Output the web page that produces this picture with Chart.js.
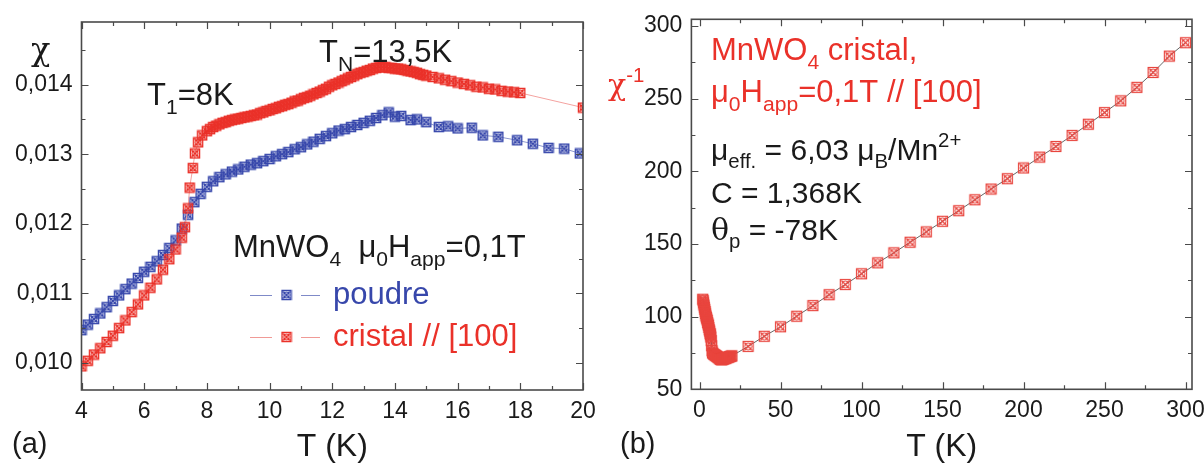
<!DOCTYPE html>
<html>
<head>
<meta charset="utf-8">
<script src="https://cdn.jsdelivr.net/npm/chart.js@4.4.0/dist/chart.umd.min.js"></script>
<style>
  body { margin: 0; background: #fff; }
  #wrap { position: relative; width: 1204px; height: 464px; }
  #chartA { position: absolute; left: 0; top: 0; }
  #chartB { position: absolute; left: 600px; top: 0; }
</style>
</head>
<body>
<div id="wrap">
  <canvas id="chartA" width="600" height="464"></canvas>
  <canvas id="chartB" width="604" height="464"></canvas>
</div>
<script>
// panel (a): chi vs T, 4-20 K
const cristalT = [4.0, 4.2, 4.4, 4.6, 4.8, 5.0, 5.2, 5.4, 5.6, 5.8, 6.0, 6.2, 6.4, 6.6, 6.8, 7.0, 7.2, 7.3, 7.4, 7.45,
  7.55, 7.62, 7.72, 7.85,
  8.0, 8.1, 8.2, 8.3, 8.4, 8.5, 8.6, 8.7, 8.8, 8.9, 9.0, 9.1, 9.2, 9.3, 9.4, 9.5, 9.6, 9.7, 9.8, 9.9,
  10.0, 10.1, 10.2, 10.3, 10.4, 10.5, 10.6, 10.7, 10.8, 10.9, 11.0, 11.1, 11.2, 11.3, 11.4, 11.5, 11.6, 11.7, 11.8, 11.9,
  12.0, 12.1, 12.2, 12.3, 12.4, 12.5, 12.6, 12.7, 12.8, 12.9, 13.0, 13.1, 13.2, 13.3, 13.4, 13.5, 13.6, 13.7, 13.8, 13.9,
  14.0, 14.1, 14.2, 14.3, 14.4, 14.5, 14.6, 14.7, 14.8, 14.9,
  15.0, 15.2, 15.4, 15.6, 15.8, 16.0, 16.2, 16.4, 16.6, 16.8, 17.0, 17.2, 17.4, 17.6, 17.8, 18.0, 20.0];
const cristalChi = [0.00995, 0.01003, 0.01012, 0.01021, 0.01030, 0.01039, 0.01050, 0.01061, 0.01073, 0.01084,
  0.01097, 0.01108, 0.01120, 0.01134, 0.01149, 0.01163, 0.01180, 0.01195, 0.01222, 0.01252,
  0.01280, 0.01301, 0.01317, 0.01327,
  0.01333, 0.01336, 0.01339, 0.01341, 0.01343, 0.01345, 0.01346, 0.01348, 0.01349, 0.01350,
  0.01351, 0.01352, 0.01353, 0.01354, 0.01355, 0.01356, 0.01357, 0.01359, 0.01360, 0.01362,
  0.01363, 0.01365, 0.01366, 0.01368, 0.01369, 0.01371, 0.01372, 0.01374, 0.01376, 0.01377,
  0.01379, 0.01381, 0.01382, 0.01384, 0.01386, 0.01388, 0.01390, 0.01392, 0.01394, 0.01397,
  0.01399, 0.01401, 0.01403, 0.01405, 0.01407, 0.01409, 0.01411, 0.01413, 0.01415, 0.01417,
  0.01418, 0.01420, 0.01421, 0.01423, 0.01424, 0.01425, 0.01425, 0.01425, 0.01424, 0.01424,
  0.01423, 0.01423, 0.01422, 0.01421, 0.01420, 0.01419, 0.01418, 0.01417, 0.01415, 0.01414,
  0.01413, 0.01411, 0.01409, 0.01407, 0.01405, 0.01403, 0.01401, 0.01399, 0.01397, 0.01396,
  0.01394, 0.01393, 0.01391, 0.01390, 0.01389, 0.01388, 0.01367];

const poudreT = [4.0, 4.2, 4.4, 4.6, 4.8, 5.0, 5.2, 5.4, 5.6, 5.8, 6.0, 6.2, 6.4, 6.6, 6.8, 7.0, 7.2, 7.4, 7.6, 7.8,
  8.0, 8.2, 8.4, 8.6, 8.8, 9.0, 9.2, 9.4, 9.6, 9.8, 10.0, 10.2, 10.4, 10.6, 10.8, 11.0, 11.2, 11.4, 11.6, 11.8,
  12.0, 12.2, 12.4, 12.6, 12.8, 13.0, 13.2, 13.4, 13.6, 13.8, 14.0, 14.2, 14.5, 14.7, 15.0, 15.4, 15.7, 16.0,
  16.45, 16.8, 17.3, 17.9, 18.4, 18.9, 19.4, 19.9];
const poudreChi = [0.01047, 0.01055, 0.01063, 0.01071, 0.01080, 0.01089, 0.01097, 0.01106, 0.01114, 0.01122,
  0.01131, 0.01138, 0.01146, 0.01155, 0.01165, 0.01176, 0.01193, 0.01213, 0.01231, 0.01243,
  0.01253, 0.01261, 0.01267, 0.01271, 0.01275, 0.01278, 0.01282, 0.01285, 0.01287, 0.01290,
  0.01293, 0.01297, 0.01300, 0.01303, 0.01307, 0.01310, 0.01314, 0.01318, 0.01322, 0.01326,
  0.01330, 0.01334, 0.01336, 0.01339, 0.01342, 0.01345, 0.01348, 0.01352, 0.01356, 0.01360,
  0.01354, 0.01355, 0.01349, 0.01350, 0.01346, 0.01339, 0.01340, 0.01337,
  0.01338, 0.01327, 0.01325, 0.01320, 0.01315, 0.01309, 0.01308, 0.01301];

// panel (b): 1/chi vs T, 0-300 K
const lowT = [2, 2.25, 2.5, 2.75, 3, 3.25, 3.5, 3.75, 4, 4.25, 4.5, 4.75, 5, 5.25, 5.5, 5.75, 6, 6.25, 6.5, 6.75,
  7, 7.25, 7.5, 7.75, 8, 8.5, 9, 9.5, 10, 10.5, 11, 11.5, 12, 12.5, 13, 13.5, 14, 14.5, 15, 15.5, 16, 16.5,
  17, 17.5, 18, 18.5, 19, 19.5];
const lowInv = [112, 111, 109.5, 108, 106.5, 105, 103.5, 102, 100.5, 99.5, 98.5, 97.5, 96, 95, 94, 92.5, 91, 90,
  88.5, 87.5, 86, 83.5, 80, 76.5, 75, 74.4, 74, 73.6, 73.2, 72.8, 72.4, 72, 71.5, 71, 70.6, 70.3, 70.4, 70.6,
  70.9, 71.1, 71.3, 71.5, 71.8, 72, 72.2, 72.4, 72.6, 72.8];
const highT = [20, 30, 40, 50, 60, 70, 80, 90, 100, 110, 120, 130, 140, 150, 160, 170, 180, 190, 200, 210,
  220, 230, 240, 250, 260, 270, 280, 290, 300];
const highInv = [73, 79.5, 86.5, 93, 100.3, 107.6, 115.1, 122.1, 129.5, 137, 143.9, 151.2, 158.3, 165.6, 172.9,
  180.4, 187.8, 194.9, 202.3, 209.8, 217.1, 224.7, 232.4, 240.4, 248.5, 257.8, 268, 279.3, 288.5];

const xTicksA = [4, 6, 8, 10, 12, 14, 16, 18, 20];
const yTicksA = [0.010, 0.011, 0.012, 0.013, 0.014];
const xTicksB = [0, 50, 100, 150, 200, 250, 300];
const yTicksB = [50, 100, 150, 200, 250, 300];

const RED = '#ea3129';
const BLUE = '#3747ab';
const SANS = '"Liberation Sans", Arial, sans-serif';
const GREEK = '"DejaVu Serif", "Liberation Serif", serif';

function makeMarker(color, size, lw) {
  const c = document.createElement('canvas');
  c.width = c.height = size + 2;
  const g = c.getContext('2d');
  const a = 1.5, b = size + 0.5;
  g.strokeStyle = color;
  g.lineWidth = lw;
  g.strokeRect(a, a, b - a, b - a);
  g.beginPath();
  g.moveTo(a + 1, a + 1); g.lineTo(b - 1, b - 1);
  g.moveTo(b - 1, a + 1); g.lineTo(a + 1, b - 1);
  g.stroke();
  g.lineWidth = 1;
  g.beginPath();
  g.arc(c.width / 2, c.height / 2, size / 2 - 2, 0, Math.PI * 2);
  g.stroke();
  return c;
}

const mkRed = makeMarker(RED, 10, 1.5);
const mkBlue = makeMarker(BLUE, 10, 1.5);
const mkRedB = makeMarker('#e8453e', 11, 1.2);

function pts(xs, ys) { return xs.map((x, i) => ({ x: x, y: ys[i] })); }

// rich text with sub / superscripts
function rich(ctx, x, y, parts, size, color) {
  ctx.fillStyle = color;
  ctx.textAlign = 'left';
  ctx.textBaseline = 'alphabetic';
  let cx = x;
  parts.forEach(p => {
    const kind = p[1] || '';
    const s = kind ? size * 0.68 : size;
    ctx.font = s + 'px ' + (p[2] || SANS);
    const dy = kind === 'sub' ? size * 0.28 : kind === 'sup' ? -size * 0.45 : 0;
    ctx.fillText(p[0], cx, y + dy);
    cx += ctx.measureText(p[0]).width;
  });
}

// box + inward ticks on the four sides
const frameTicks = {
  id: 'frameTicks',
  afterDraw(chart, args, opts) {
    const { ctx, chartArea: a, scales: { x, y } } = chart;
    ctx.save();
    ctx.strokeStyle = '#4a4a4a';
    ctx.lineWidth = 1.2;
    ctx.beginPath();
    const tick = (vals, len, horiz) => vals.forEach(v => {
      if (horiz) {
        const px = Math.round(x.getPixelForValue(v)) + 0.5;
        ctx.moveTo(px, a.bottom); ctx.lineTo(px, a.bottom - len);
        ctx.moveTo(px, a.top); ctx.lineTo(px, a.top + len);
      } else {
        const py = Math.round(y.getPixelForValue(v)) + 0.5;
        ctx.moveTo(a.left, py); ctx.lineTo(a.left + len, py);
        ctx.moveTo(a.right, py); ctx.lineTo(a.right - len, py);
      }
    });
    tick(opts.xMajor, 7, true);
    tick(opts.xMinor, 4, true);
    tick(opts.yMajor, 7, false);
    tick(opts.yMinor, 4, false);
    ctx.stroke();
    ctx.lineWidth = 1.6;
    ctx.strokeRect(a.left, a.top, a.right - a.left, a.bottom - a.top);
    ctx.restore();
  }
};

const notes = {
  id: 'notes',
  afterDraw(chart, args, opts) {
    const ctx = chart.ctx;
    ctx.save();
    opts.items.forEach(it => rich(ctx, it.x, it.y, it.parts, it.size, it.color));
    (opts.legend || []).forEach(l => {
      ctx.strokeStyle = l.line;
      ctx.lineWidth = 1;
      ctx.beginPath();
      ctx.moveTo(250, l.y + 0.5); ctx.lineTo(272, l.y + 0.5);
      ctx.moveTo(301, l.y + 0.5); ctx.lineTo(320, l.y + 0.5);
      ctx.stroke();
      ctx.drawImage(l.marker, 286.5 - l.marker.width / 2, l.y - l.marker.height / 2);
      rich(ctx, 333, l.y + 9, [[l.text]], 31, l.color);
    });
    ctx.restore();
  }
};

function fixBox(w, h) {
  return function (s) {
    if (w !== null) s.width = w;
    if (h !== null) s.height = h;
    s.paddingLeft = 0; s.paddingRight = 0; s.paddingTop = 0; s.paddingBottom = 0;
  };
}

const tickFont = { family: SANS, size: 23 };
const titleFont = { family: SANS, size: 32, lineHeight: 1.05 };

new Chart(document.getElementById('chartA'), {
  type: 'scatter',
  data: {
    datasets: [{
      label: 'cristal // [100]',
      data: pts(cristalT, cristalChi),
      showLine: true,
      borderColor: '#f4a3a0',
      borderWidth: 1,
      pointStyle: mkRed,
      order: 0
    }, {
      label: 'poudre',
      data: pts(poudreT, poudreChi),
      showLine: true,
      borderColor: '#8e98cf',
      borderWidth: 1,
      pointStyle: mkBlue,
      order: 1
    }]
  },
  options: {
    responsive: false,
    devicePixelRatio: 1,
    animation: false,
    layout: { padding: { top: 22, right: 17, left: 0, bottom: 0 } },
    plugins: {
      legend: { display: false },
      tooltip: { enabled: false },
      frameTicks: {
        xMajor: xTicksA, xMinor: [5, 7, 9, 11, 13, 15, 17, 19],
        yMajor: yTicksA, yMinor: [0.0105, 0.0115, 0.0125, 0.0135, 0.0145]
      },
      notes: {
        items: [
          { x: 31, y: 60, size: 32, color: '#1a1a1a', parts: [['χ', '', GREEK]] },
          { x: 319, y: 62, size: 31, color: '#1a1a1a', parts: [['T'], ['N', 'sub'], ['=13,5K']] },
          { x: 147, y: 105, size: 31, color: '#1a1a1a', parts: [['T'], ['1', 'sub'], ['=8K']] },
          { x: 233, y: 257, size: 31, color: '#1a1a1a',
            parts: [['MnWO'], ['4', 'sub'], ['  μ'], ['0', 'sub'], ['H'], ['app', 'sub'], ['=0,1T']] },
          { x: 12, y: 453, size: 29, color: '#1a1a1a', parts: [['(a)']] }
        ],
        legend: [
          { y: 295, text: 'poudre', color: BLUE, line: '#7f8ac8', marker: mkBlue },
          { y: 337, text: 'cristal // [100]', color: RED, line: '#f09a96', marker: mkRed }
        ]
      }
    },
    scales: {
      x: {
        type: 'linear', min: 4, max: 20,
        afterBuildTicks: s => { s.ticks = xTicksA.map(v => ({ value: v })); },
        afterFit: fixBox(null, 74),
        grid: { display: false, drawTicks: false },
        border: { display: false },
        ticks: { font: tickFont, color: '#1a1a1a', padding: 8, maxRotation: 0 },
        title: { display: true, text: 'T (K)', font: titleFont, color: '#1a1a1a', padding: 0 }
      },
      y: {
        type: 'linear', min: 0.00961, max: 0.0149,
        afterBuildTicks: s => { s.ticks = yTicksA.map(v => ({ value: v })); },
        afterFit: fixBox(81.5, null),
        grid: { display: false, drawTicks: false },
        border: { display: false },
        ticks: { font: tickFont, color: '#1a1a1a', padding: 9, callback: v => v.toFixed(3).replace('.', ',') }
      }
    }
  },
  plugins: [frameTicks, notes]
});

new Chart(document.getElementById('chartB'), {
  type: 'scatter',
  data: {
    datasets: [{
      label: 'cristal',
      data: pts(lowT.concat(highT), lowInv.concat(highInv)),
      showLine: true,
      borderColor: '#666',
      borderWidth: 1,
      pointStyle: mkRedB
    }]
  },
  options: {
    responsive: false,
    devicePixelRatio: 1,
    animation: false,
    layout: { padding: { top: 19.3, right: 12, left: 0, bottom: 0 } },
    plugins: {
      legend: { display: false },
      tooltip: { enabled: false },
      frameTicks: {
        xMajor: xTicksB, xMinor: [25, 75, 125, 175, 225, 275],
        yMajor: yTicksB, yMinor: [75, 125, 175, 225, 275]
      },
      notes: {
        items: [
          { x: 8, y: 95, size: 30, color: RED, parts: [['χ', '', GREEK], ['-1', 'sup']] },
          { x: 111, y: 60, size: 31, color: RED, parts: [['MnWO'], ['4', 'sub'], [' cristal,']] },
          { x: 111, y: 102, size: 31, color: RED, parts: [['μ'], ['0', 'sub'], ['H'], ['app', 'sub'], ['=0,1T // [100]']] },
          { x: 111, y: 160, size: 30, color: '#1a1a1a',
            parts: [['μ'], ['eff.', 'sub'], [' = 6,03 μ'], ['B', 'sub'], ['/Mn'], ['2+', 'sup']] },
          { x: 111, y: 203, size: 30, color: '#1a1a1a', parts: [['C = 1,368K']] },
          { x: 111, y: 240, size: 30, color: '#1a1a1a', parts: [['θ', '', GREEK], ['p', 'sub'], [' = -78K']] },
          { x: 20, y: 453, size: 29, color: '#1a1a1a', parts: [['(b)']] }
        ]
      }
    },
    scales: {
      x: {
        type: 'linear', min: -5, max: 304,
        afterBuildTicks: s => { s.ticks = xTicksB.map(v => ({ value: v })); },
        afterFit: fixBox(null, 74.7),
        grid: { display: false, drawTicks: false },
        border: { display: false },
        ticks: { font: tickFont, color: '#1a1a1a', padding: 8, maxRotation: 0 },
        title: { display: true, text: 'T (K)', font: titleFont, color: '#1a1a1a', padding: 0 }
      },
      y: {
        type: 'linear', min: 50, max: 304.6,
        afterBuildTicks: s => { s.ticks = yTicksB.map(v => ({ value: v })); },
        afterFit: fixBox(91.4, null),
        grid: { display: false, drawTicks: false },
        border: { display: false },
        ticks: { font: tickFont, color: '#1a1a1a', padding: 9 }
      }
    }
  },
  plugins: [frameTicks, notes]
});
</script>
</body>
</html>
